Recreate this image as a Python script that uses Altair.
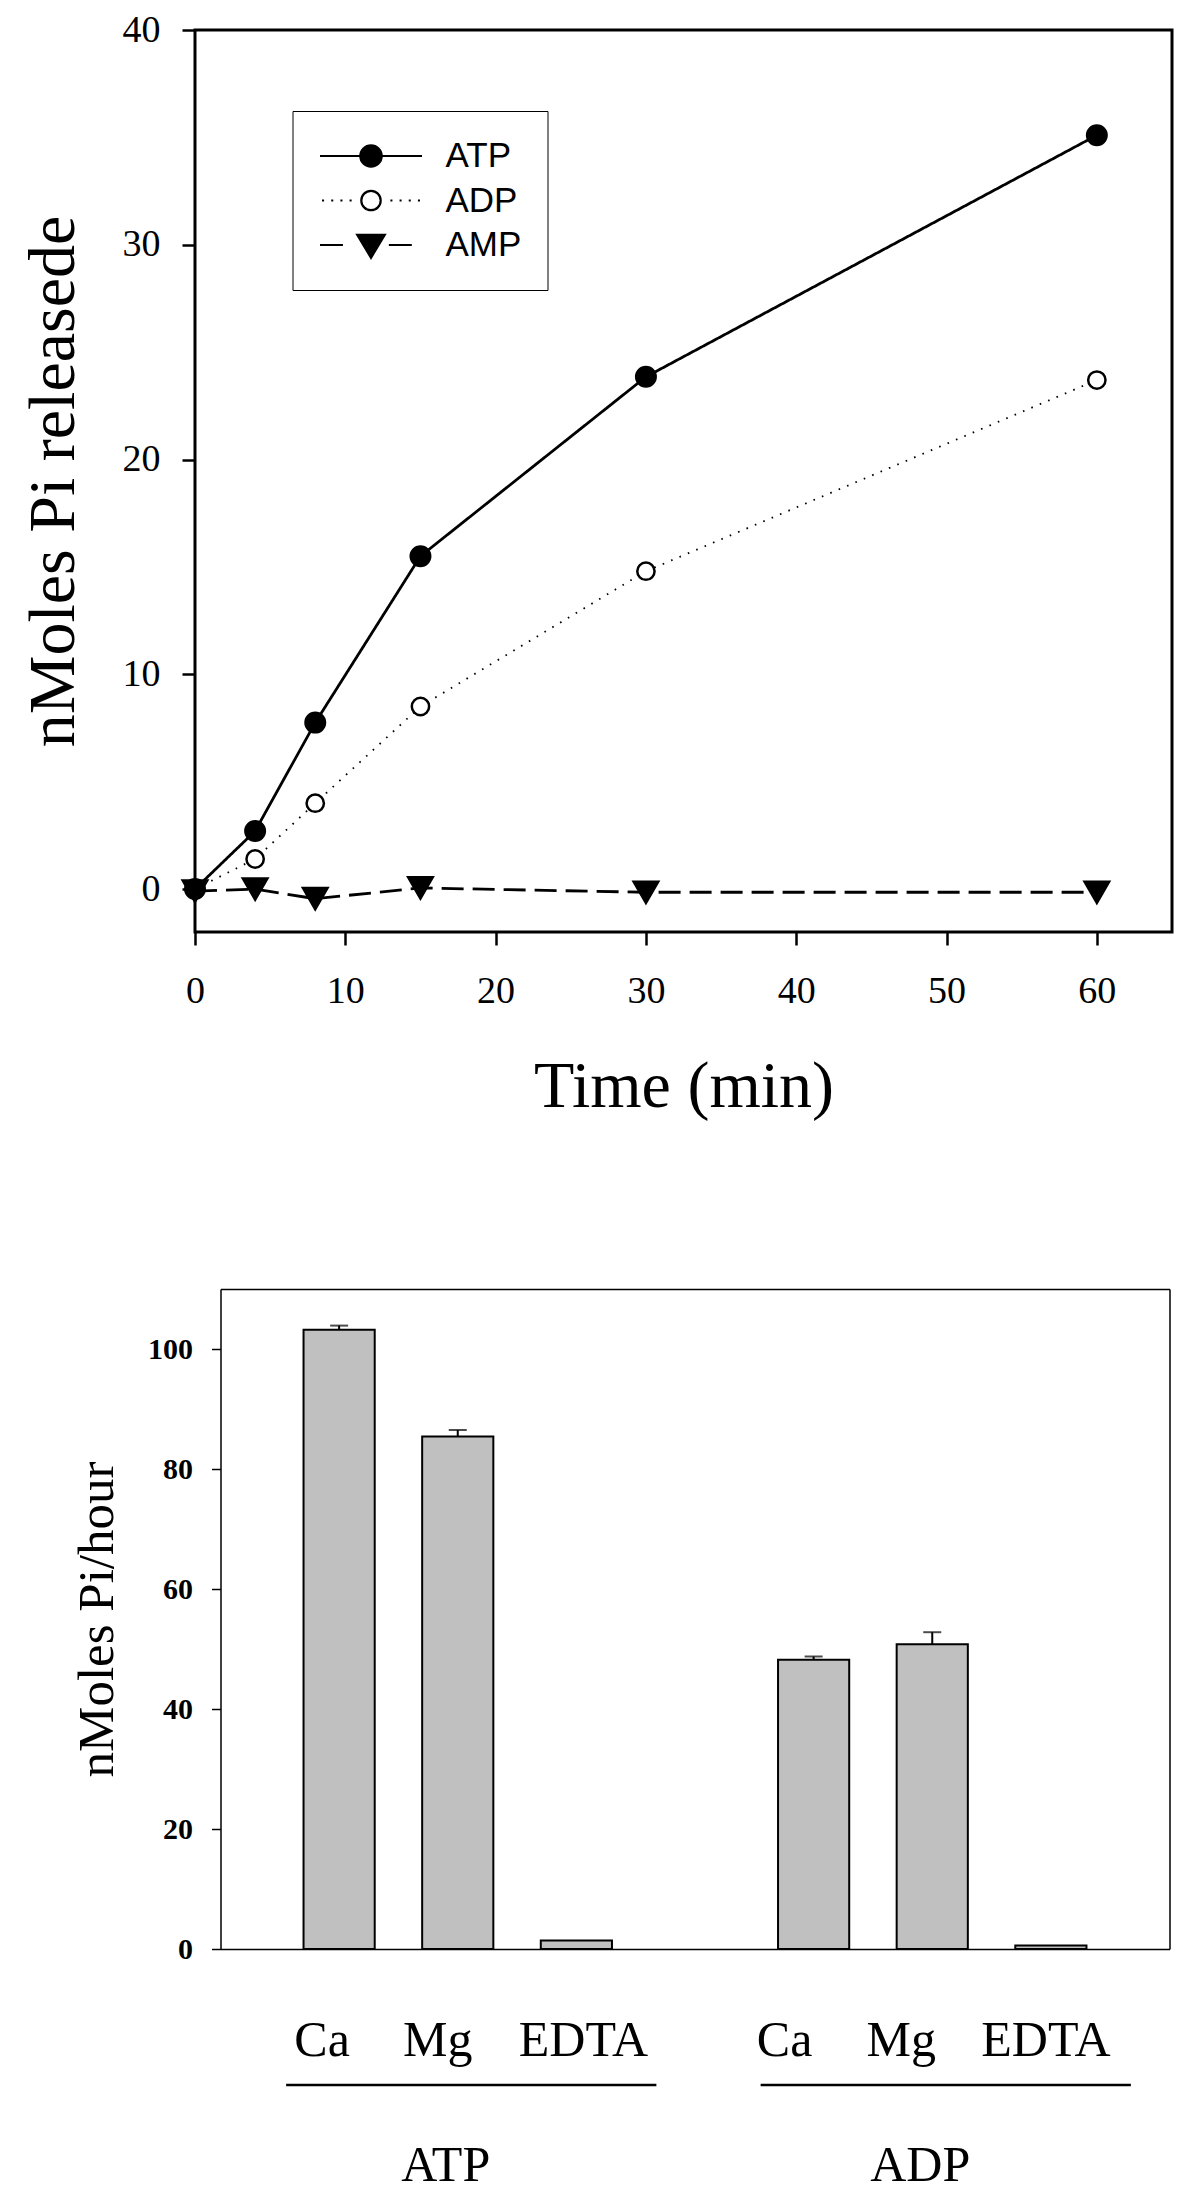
import altair as alt
import pandas as pd

# ---------------- top chart data ----------------
time_min = [0, 4, 8, 15, 30, 60]
atp_pi = [0.0, 2.7, 7.75, 15.5, 23.85, 35.1]
adp_pi = [0.0, 1.4, 4.0, 8.5, 14.8, 23.7]
amp_pi = [-0.1, 0.0, -0.45, 0.05, -0.15, -0.15]
series_names = ["ATP", "ADP", "AMP"]

# ---------------- bottom chart data ----------------
bar_groups = ["ATP", "ATP", "ATP", "ADP", "ADP", "ADP"]
bar_ions = ["Ca", "Mg", "EDTA", "Ca", "Mg", "EDTA"]
bar_values = [103.2, 85.4, 1.4, 48.2, 50.8, 0.6]
bar_errors = [0.7, 1.1, 0.0, 0.55, 2.0, 0.0]
group_names = ["ATP", "ADP"]

SERIF = "Liberation Serif"
SANS = "Liberation Sans"

# ---------- top chart ----------
rows = []
for name, vals in zip(series_names, [atp_pi, adp_pi, amp_pi]):
    for t, v in zip(time_min, vals):
        rows.append({"series": name, "time": t, "pi": v})
df_top = pd.DataFrame(rows)

x_top = alt.X(
    "time:Q",
    title="Time (min)",
    scale=alt.Scale(domain=[0, 65], nice=False, zero=False),
    axis=alt.Axis(
        values=[0, 10, 20, 30, 40, 50, 60], format="d", grid=False, domain=False,
        tickSize=13, tickWidth=2.5, tickColor="black",
        labelFont=SERIF, labelFontSize=38, labelColor="black", labelPadding=27,
        labelFlush=False,
        titleFont=SERIF, titleFontSize=66, titleFontWeight="normal",
        titleColor="black", titlePadding=44,
    ),
)
y_top = alt.Y(
    "pi:Q",
    title="nMoles Pi releasede",
    scale=alt.Scale(domain=[-2, 40], nice=False, zero=False),
    axis=alt.Axis(
        values=[0, 10, 20, 30, 40], format="d", grid=False, domain=False,
        tickSize=13, tickWidth=2.5, tickColor="black",
        labelFont=SERIF, labelFontSize=38, labelColor="black", labelPadding=22,
        labelFlush=False,
        titleFont=SERIF, titleFontSize=66, titleFontWeight="normal",
        titleColor="black", titlePadding=35,
    ),
)

lines = alt.Chart(df_top).mark_line(color="black").encode(
    x=x_top,
    y=y_top,
    strokeDash=alt.StrokeDash(
        "series:N",
        scale=alt.Scale(domain=series_names, range=[[1, 0], [1.6, 7.5], [22, 9]]),
        legend=None,
    ),
    strokeWidth=alt.condition("datum.series === 'ADP'", alt.value(1.8), alt.value(2.8)),
)

points = alt.Chart(df_top).transform_calculate(
    msize="datum.series === 'AMP' ? 600 : (datum.series === 'ADP' ? 300 : 380)",
).mark_point(stroke="black", strokeWidth=2.5, opacity=1).encode(
    x="time:Q",
    y="pi:Q",
    shape=alt.condition("datum.series === 'AMP'", alt.value("triangle-down"), alt.value("circle")),
    fill=alt.condition("datum.series === 'ADP'", alt.value("white"), alt.value("black")),
    size=alt.Size("msize:Q", scale=None),
)

# legend symbols: line segment + marker, drawn as custom SVG paths
atp_sym = "M-1,0H1M0.21,0A0.21,0.21,0,1,1,-0.21,0A0.21,0.21,0,1,1,0.21,0Z"
adp_sym = ("M-0.96,0h0.04M-0.78,0h0.04M-0.6,0h0.04M-0.42,0h0.04"
           "M0.38,0h0.04M0.56,0h0.04M0.74,0h0.04M0.92,0h0.04"
           "M0.19,0A0.19,0.19,0,1,1,-0.19,0A0.19,0.19,0,1,1,0.19,0Z")
amp_sym = "M-1,0H-0.55M0.35,0H0.8M-0.27,-0.2L0.27,-0.2L0,0.25Z"

legend = alt.Legend(
    title=None, orient="none", legendX=97.5, legendY=81,
    padding=26, strokeColor="black", fillColor="white", cornerRadius=0,
    labelFont=SANS, labelFontSize=35, labelColor="black", labelOffset=22,
    symbolSize=10404, symbolStrokeWidth=2.2,
    clipHeight=38, rowPadding=6.5,
)

legend_layer = alt.Chart(df_top).transform_filter("false").mark_point(
    strokeWidth=2.2, opacity=1, strokeOpacity=1
).encode(
    x="time:Q",
    y="pi:Q",
    shape=alt.Shape(
        "series:N",
        scale=alt.Scale(domain=series_names, range=[atp_sym, adp_sym, amp_sym]),
        legend=legend,
    ),
    fill=alt.Fill(
        "series:N",
        scale=alt.Scale(domain=series_names, range=["black", "white", "black"]),
        legend=legend,
    ),
    stroke=alt.Stroke(
        "series:N",
        scale=alt.Scale(domain=series_names, range=["black", "black", "black"]),
        legend=legend,
    ),
)

top = alt.layer(lines, points, legend_layer).properties(
    width=977, height=902,
    view=alt.ViewBackground(stroke="black", strokeWidth=3),
)

# ---------- bottom chart ----------
# The bottom panel's frame starts 25.5 px right of the panel origin, so that it
# sits further right than the top panel, as in the original figure.
SHIFT = 25.5
BOT_W = 949

df_bar = pd.DataFrame({
    "group": bar_groups, "ion": bar_ions, "value": bar_values, "err": bar_errors,
})
df_bar["key"] = df_bar["group"] + "|" + df_bar["ion"]
atp_keys = [f"ATP|{i}" for i in bar_ions[:3]]
adp_keys = [f"ADP|{i}" for i in bar_ions[3:]]
x_domain = atp_keys + ["gap"] + adp_keys

label_shift = ("datum.value === 'ATP|Ca' ? -17 : datum.value === 'ATP|Mg' ? -20 : "
               "datum.value === 'ATP|EDTA' ? 7 : datum.value === 'ADP|Ca' ? -29 : "
               "datum.value === 'ADP|Mg' ? -31 : -5")

FRAME = dict(domain=True, domainColor="black", domainWidth=1.5, grid=False)

x_bot = alt.X(
    "key:N", title=None, sort=x_domain,
    scale=alt.Scale(domain=x_domain, paddingInner=0.4, paddingOuter=0.7,
                    range=[SHIFT, SHIFT + BOT_W]),
    axis=alt.Axis(
        labelExpr="indexof(datum.value, '|') < 0 ? '' : slice(datum.value, indexof(datum.value, '|') + 1)",
        ticks=False, tickSize=0, labelAngle=0, labelOverlap=False,
        labelFont=SERIF, labelFontSize=50, labelColor="black",
        labelPadding=66, labelOffset=alt.ExprRef(label_shift), **FRAME,
    ),
)
y_bot = alt.Y(
    "value:Q", title="nMoles Pi/hour",
    scale=alt.Scale(domain=[0, 110], nice=False),
    axis=alt.Axis(
        values=[0, 20, 40, 60, 80, 100], format="d", offset=-SHIFT,
        tickSize=9, tickWidth=1.5, tickColor="black",
        labelFont=SERIF, labelFontSize=30, labelFontWeight="bold", labelColor="black",
        labelPadding=19,
        titleFont=SERIF, titleFontSize=51, titleFontWeight="normal",
        titleColor="black", titlePadding=24, **FRAME,
    ),
)

bars = alt.Chart(df_bar).mark_bar(fill="#c0c0c0", stroke="black", strokeWidth=2).encode(
    x=x_bot, y=y_bot,
)
err_base = alt.Chart(df_bar).transform_filter("datum.err > 0").transform_calculate(
    top="datum.value + datum.err"
)
# this layer also carries the top and right edges of the frame
err_rule = err_base.mark_rule(color="black", strokeWidth=2).encode(
    x=alt.X("key:N", title=None,
            axis=alt.Axis(orient="top", labels=False, ticks=False, **FRAME)),
    y=alt.Y("value:Q", title=None,
            axis=alt.Axis(orient="right", labels=False, ticks=False, **FRAME)),
    y2="top:Q",
)
err_cap = err_base.mark_tick(color="black", thickness=2, size=18).encode(
    x=alt.X("key:N", axis=None), y=alt.Y("top:Q", axis=None),
)

df_groups = pd.DataFrame({
    "group": group_names,
    "start": [atp_keys[0], adp_keys[0]],
    "mid": [atp_keys[1], adp_keys[1]],
    "end": [atp_keys[2], adp_keys[2]],
})
group_text = alt.Chart(df_groups).mark_text(
    font=SERIF, fontSize=50, color="black", baseline="alphabetic", align="center", dx=-12,
).encode(x=alt.X("mid:N", axis=None), y=alt.value(892), text="group:N")
group_line = alt.Chart(df_groups).mark_rule(
    color="black", strokeWidth=2.5, xOffset=-53, x2Offset=80,
).encode(x=alt.X("start:N", axis=None), x2="end:N", y=alt.value(796))

bottom = alt.layer(bars, err_rule, err_cap, group_line, group_text).resolve_axis(
    x="independent", y="independent"
).properties(
    width=BOT_W + SHIFT, height=660,
    view=alt.ViewBackground(stroke="transparent", strokeWidth=0),
)

chart = alt.vconcat(top, bottom, spacing=168).resolve_scale(
    fill="independent", shape="independent", stroke="independent"
).resolve_legend(
    fill="independent", shape="independent", stroke="independent"
).properties(
    padding={"left": 10, "top": 1, "right": 5, "bottom": 5},
).configure(background="white")

chart.save("out.html", embed_options={"renderer": "svg", "actions": False})
